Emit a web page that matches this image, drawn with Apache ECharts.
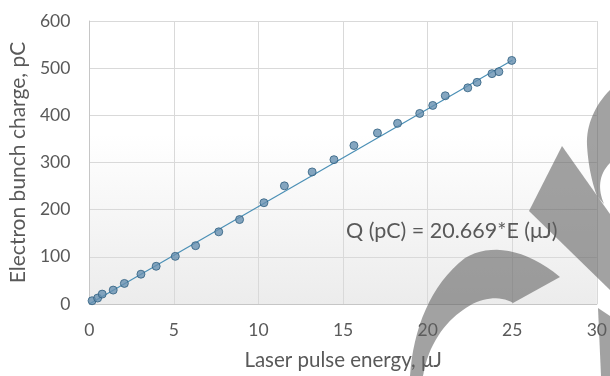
<!DOCTYPE html>
<html>
<head>
<meta charset="utf-8">
<script src="https://cdn.jsdelivr.net/npm/echarts@6/dist/echarts.min.js"></script>
<style>
html,body{margin:0;padding:0;background:#fff;}
#chart{width:610px;height:376px;}
</style>
</head>
<body>
<div id="chart"></div>
<script>
// Data
const energy = [0.16, 0.49, 0.76, 1.41, 2.07, 3.05, 3.95, 5.08, 6.28, 7.65, 8.88, 10.32, 11.53, 13.17, 14.46, 15.64, 17.03, 18.22, 19.53, 20.30, 21.04, 22.37, 22.92, 23.80, 24.21, 24.97];
const charge = [6.9, 12.6, 21.0, 29.5, 43.6, 63.2, 80.0, 101.0, 123.6, 153.0, 179.0, 214.7, 250.5, 280.0, 306.0, 336.0, 362.7, 383.0, 404.0, 421.0, 441.5, 458.3, 470.0, 488.4, 492.6, 516.4];
const slope = 20.669;
const fitRange = [0, 25];
const xTicks = { min: 0, max: 30, interval: 5 };
const yTicks = { min: 0, max: 600, interval: 100 };
const xTitle = 'Laser pulse energy, μJ';
const yTitle = 'Electron bunch charge, pC';
const fitLabel = 'Q (pC) = 20.669*E (μJ)';

const points = energy.map((e, i) => [e, charge[i]]);
const fitLine = fitRange.map(e => [e, slope * e]);

// Decorative grey overlay outlines (pixel paths, sampled from cubic beziers)
function shape(segs) {
  const pts = [];
  let cur = segs[0];
  pts.push(cur);
  for (let i = 1; i < segs.length; i++) {
    const s = segs[i];
    if (s.length === 2) { pts.push(s); cur = s; continue; }
    const [c1x, c1y, c2x, c2y, ex, ey] = s;
    for (let k = 1; k <= 16; k++) {
      const t = k / 16, u = 1 - t;
      pts.push([
        u*u*u*cur[0] + 3*u*u*t*c1x + 3*u*t*t*c2x + t*t*t*ex,
        u*u*u*cur[1] + 3*u*u*t*c1y + 3*u*t*t*c2y + t*t*t*ey
      ]);
    }
    cur = [ex, ey];
  }
  return pts;
}
const overlayShapes = [
  shape([[410,376],[413,330,430,285,465,258],[490,243,525,248,560,277],[513,303],[500,295,480,297,463,310],[445,322,428,345,423,376]]),
  shape([[562,146],[529,211],[610,290],[610,214]]),
  shape([[610,90],[595,105,586,125,587,145],[588,162,591,180,597,196],[604,204],[598,190,598,175,610,163]]),
  shape([[598,308],[610,316],[610,376],[601,376]])
];

const FONT = 'Lato';
const chart = echarts.init(document.getElementById('chart'), null, { renderer: 'canvas' });
const overlay = 'rgba(95,95,95,0.58)';
chart.setOption({
  animation: false,
  backgroundColor: '#ffffff',
  textStyle: { fontFamily: FONT },
  grid: {
    left: 88, right: 11, top: 21, bottom: 70,
    show: true, borderWidth: 0,
    backgroundColor: {
      type: 'linear', x: 0, y: 0, x2: 0, y2: 1,
      colorStops: [
        { offset: 0, color: '#ffffff' },
        { offset: 0.4, color: '#ffffff' },
        { offset: 1, color: '#ececec' }
      ]
    }
  },
  xAxis: {
    type: 'value', min: xTicks.min, max: xTicks.max, interval: xTicks.interval,
    name: xTitle, nameLocation: 'middle', nameGap: 46,
    nameTextStyle: { fontSize: 20.5, color: '#595959', fontFamily: FONT },
    axisLine: { show: true, lineStyle: { color: '#c6c6c6', width: 1 } },
    axisTick: { show: false },
    axisLabel: { fontSize: 17.5, color: '#595959', margin: 17, fontFamily: FONT },
    splitLine: { show: true, lineStyle: { color: '#d9d9d9', width: 1 } }
  },
  yAxis: {
    type: 'value', min: yTicks.min, max: yTicks.max, interval: yTicks.interval,
    name: yTitle, nameLocation: 'middle', nameGap: 59,
    nameTextStyle: { fontSize: 21, color: '#595959', fontFamily: FONT },
    axisLine: { show: true, lineStyle: { color: '#c6c6c6', width: 1 } },
    axisTick: { show: false },
    axisLabel: { fontSize: 17.5, color: '#595959', margin: 19, fontFamily: FONT },
    splitLine: { show: true, lineStyle: { color: '#d9d9d9', width: 1 } }
  },
  series: [
    {
      type: 'line', data: fitLine, symbol: 'none', z: 2,
      lineStyle: { color: '#4a8fb5', width: 1.2 }
    },
    {
      type: 'scatter', data: points, symbol: 'circle', symbolSize: 8, z: 3,
      itemStyle: { color: '#6690b0', borderColor: '#2f5f80', borderWidth: 1 }
    }
  ],
  graphic: [
    {
      type: 'text', left: 346, top: 220, z: 10,
      style: { text: fitLabel, fontSize: 21.5, fill: '#595959', fontFamily: FONT }
    }
  ].concat(overlayShapes.map(p => ({
    type: 'polygon', z: 100, shape: { points: p }, style: { fill: overlay }
  })))
});
</script>
</body>
</html>
